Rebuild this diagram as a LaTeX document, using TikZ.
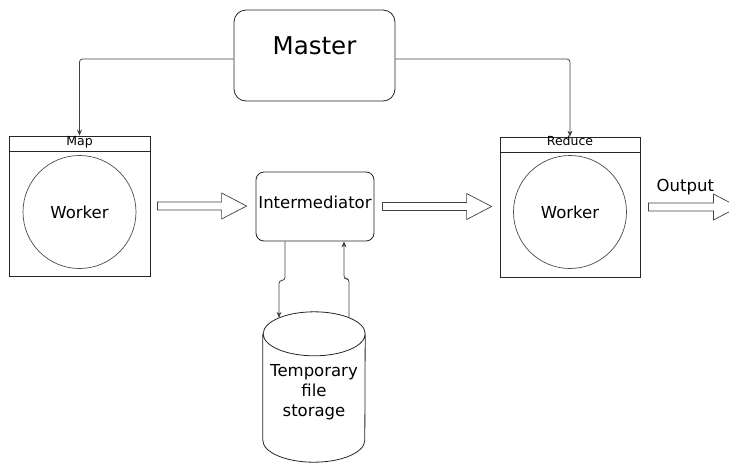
\documentclass[tikz,border=0pt]{standalone}
\usepackage{fontspec}
\setmainfont{DejaVu Sans}
\usetikzlibrary{calc,arrows.meta}

\tikzset{
  outline/.style={draw=black!85, line width=0.8pt},
  box/.style={outline, fill=white, inner sep=0pt},
  rbox/.style={box, rounded corners=#1},
  worker/.style={circle, draw=black!70, line width=0.7pt, inner sep=0pt,
                 minimum size=113pt, font=\fontsize{16.5}{20}\selectfont},
  label/.style={inner sep=0pt, font=\fontsize{16.5}{20}\selectfont},
  header/.style={inner sep=0pt, anchor=base, font=\fontsize{12.5}{14}\selectfont},
  conn/.style={draw=black!75, line width=0.8pt, rounded corners=3pt,
               -{Stealth[length=6pt,width=5pt]}},
  hollow/.style={draw=black!75, line width=0.7pt, fill=white, line join=miter},
}

% horizontal hollow block arrow from #1 to #2 (tip at #2)
\newcommand\blockarrow[2]{%
  \draw[hollow] let \p1=(#1), \p2=(#2) in
    (\x1,\y1+4pt) -- (\x2-25pt,\y1+4pt) -- (\x2-25pt,\y1+13pt) --
    (\x2,\y1) -- (\x2-25pt,\y1-13pt) -- (\x2-25pt,\y1-4pt) --
    (\x1,\y1-4pt) -- cycle;}

\begin{document}
\begin{tikzpicture}[x=1pt, y=-1pt]
  \useasboundingbox (0,0) rectangle (729,464);
  \clip (0,0) rectangle (729,464);

  % master
  \node[rbox=12pt, minimum width=161pt, minimum height=91pt] (master) at (314.5,55.5) {};
  \node[inner sep=0pt, font=\fontsize{24.5}{29}\selectfont] (mastertxt)
       at ([yshift=9.5pt]master.center) {Master};

  % map worker
  \node[box, minimum width=141pt, minimum height=140pt] (mapbox) at (79.5,206) {};
  \draw[outline] ([yshift=-16pt]mapbox.north west) -- ([yshift=-16pt]mapbox.north east);
  \node[header] (maphead) at ($(mapbox.north)+(0,9.5)$) {Map};
  \node[worker] (mapw) at (79.5,212) {Worker};

  % reduce worker
  \node[box, minimum width=140pt, minimum height=140pt] (redbox) at (570,207) {};
  \draw[outline] ([yshift=-16pt]redbox.north west) -- ([yshift=-16pt]redbox.north east);
  \node[header] (redhead) at ($(redbox.north)+(0,9)$) {Reduce};
  \node[worker] (redw) at (570,212) {Worker};

  % intermediator
  \node[rbox=8pt, minimum width=118pt, minimum height=69pt] (inter) at (315,206.5) {};
  \node[label] (intertxt) at ([yshift=4.5pt]inter.center) {Intermediator};

  % temporary storage cylinder
  \node[inner sep=0pt, minimum width=102pt, minimum height=150pt] (store) at (314,387) {};
  \draw[outline, fill=white]
    ([yshift=-22pt]store.north west) -- ([yshift=22pt]store.south west)
    arc[start angle=180, end angle=360, x radius=51pt, y radius=22pt]
    -- ([yshift=-22pt]store.north east)
    arc[start angle=0, end angle=360, x radius=51pt, y radius=22pt];
  \node[label, align=center] (storetxt) at ([yshift=-5pt]store.center)
       {Temporary\\file\\storage};

  % master to workers
  \draw[conn] ([yshift=-3.5pt]master.west) -| (mapbox.north);
  \draw[conn] ([yshift=-3.5pt]master.east) -| (redbox.north);

  % intermediator <-> storage
  \draw[conn] ([xshift=-30pt]inter.south) -- ++(0,39) -| ([xshift=-35pt,yshift=-6pt]store.north);
  \draw[conn] ([xshift=35pt,yshift=-6pt]store.north) -- ++(0,-39) -| ([xshift=29pt]inter.south);

  % data flow
  \blockarrow{$(mapbox.east)+(7,0)$}{$(inter.west)+(-9,0)$}
  \blockarrow{$(inter.east)+(8,0)$}{$(redbox.west)+(-8,0)$}
  \coordinate (outtip) at ($(redbox.east)+(98,0)$);
  \blockarrow{$(redbox.east)+(8,0)$}{outtip}
  \node[label] (outtxt) at ($(redbox.east)+(45,-20)$) {Output};
\end{tikzpicture}
\end{document}
